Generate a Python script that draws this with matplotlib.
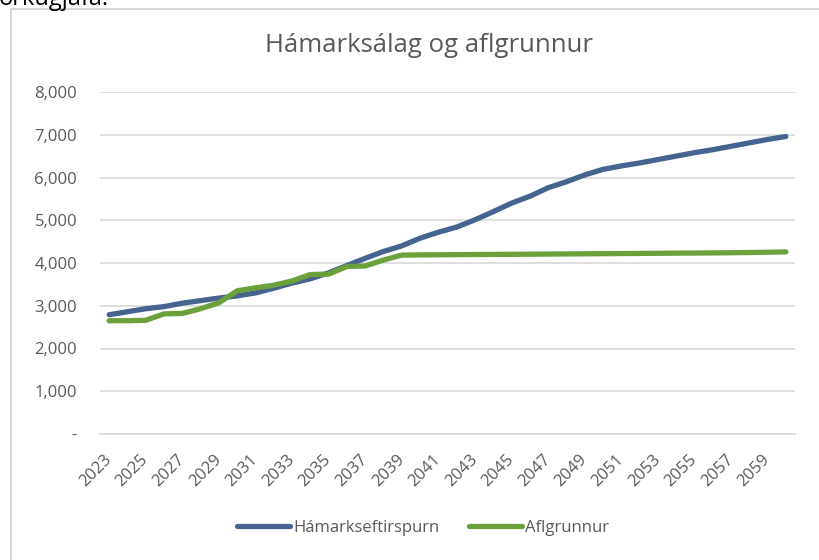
import matplotlib
matplotlib.use("Agg")
import matplotlib.pyplot as plt
from matplotlib.patches import Rectangle
from matplotlib.ticker import FuncFormatter, MultipleLocator

years = list(range(2023, 2061))
hamarkseftirspurn = [2790, 2860, 2930, 2980, 3060, 3120, 3180, 3230, 3300, 3410,
                     3530, 3630, 3770, 3940, 4110, 4270, 4400, 4580, 4720, 4840,
                     5010, 5200, 5400, 5560, 5760, 5900, 6060, 6190, 6270, 6340,
                     6420, 6500, 6580, 6650, 6730, 6810, 6890, 6960]
aflgrunnur = [2650, 2650, 2660, 2810, 2820, 2930, 3070, 3350, 3420, 3480,
              3580, 3730, 3740, 3920, 3930, 4070, 4185, 4190, 4192, 4195,
              4198, 4200, 4203, 4206, 4209, 4212, 4215, 4218, 4221, 4224,
              4227, 4230, 4233, 4236, 4240, 4245, 4252, 4260]
series_names = ["Hámarkseftirspurn", "Aflgrunnur"]
tick_labels = [str(y) for y in years[::2]]

plt.rcParams['font.family'] = ['Open Sans', 'DejaVu Sans']
text_col = '#595959'
grid_col = '#D9D9D9'

fig = plt.figure(figsize=(8.2, 5.6), dpi=100)
fig.patch.set_facecolor('white')

# outer chart border
fig.patches.append(Rectangle((11/820, -0.05), 1.2, 1 - 9/560 + 0.05,
                             transform=fig.transFigure, fill=False,
                             edgecolor='#D0D0D0', linewidth=1.2))
# cut-off text from the page above the chart
fig.text(-0.002, 1 - 5/560, "orkugjafa.", fontsize=17, color='black',
         va='baseline', ha='left')

ax = fig.add_axes([100/820, 1 - 434/560, 695/820, 342/560])
x = list(range(len(years)))
ax.plot(x, hamarkseftirspurn, color='#46648F', linewidth=3.8,
        solid_capstyle='round', solid_joinstyle='round', label=series_names[0], zorder=3)
ax.plot(x, aflgrunnur, color='#6CA03A', linewidth=3.8,
        solid_capstyle='round', solid_joinstyle='round', label=series_names[1], zorder=3)

ax.set_xlim(-0.5, len(years) - 0.5)
ax.set_ylim(0, 8000)
ax.yaxis.set_major_locator(MultipleLocator(1000))
ax.yaxis.set_major_formatter(FuncFormatter(lambda v, p: '-' if v == 0 else f"{int(v):,}"))
ax.set_xticks(x[::2])
ax.set_xticklabels(tick_labels, rotation=45, ha='right', va='center',
                   rotation_mode='anchor')
ax.tick_params(axis='x', length=0, pad=17, labelsize=12, labelcolor=text_col)
ax.tick_params(axis='y', length=0, pad=16.5, labelsize=12, labelcolor=text_col)

ax.grid(axis='y', color=grid_col, linewidth=1.2)
ax.set_axisbelow(True)
for s in ['top', 'right', 'left']:
    ax.spines[s].set_visible(False)
ax.spines['bottom'].set_color(grid_col)
ax.spines['bottom'].set_linewidth(1.2)

fig.text(429/820, 1 - 45/560, "Hámarksálag og aflgrunnur", ha='center', va='center',
         fontsize=18.5, color=text_col)

leg = fig.legend(loc='center', bbox_to_anchor=(423/820, 1 - 528/560), ncol=2,
                 frameon=False, handlelength=3.2, handletextpad=0.2,
                 columnspacing=1.75, fontsize=12)
for t in leg.get_texts():
    t.set_color(text_col)

fig.savefig("out.png", dpi=100)
